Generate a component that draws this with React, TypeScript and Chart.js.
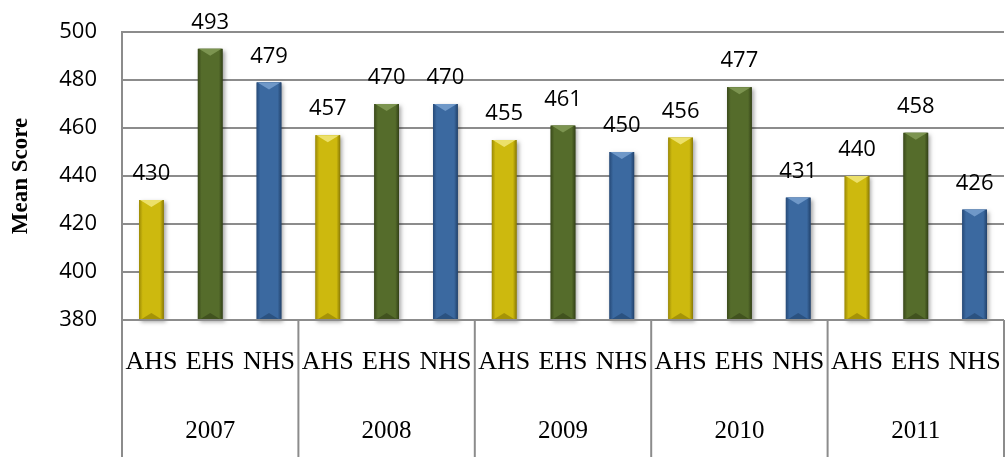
import React, { useEffect, useRef } from "react";
import { Chart, registerables } from "chart.js";

Chart.register(...registerables);

const years = ["2007", "2008", "2009", "2010", "2011"];
const schools = ["AHS", "EHS", "NHS"];
const ahsScores = [430, 457, 455, 456, 440];
const ehsScores = [493, 470, 461, 477, 458];
const nhsScores = [479, 470, 450, 431, 426];
const yTicks = { min: 380, max: 500, step: 20 };
const axisTitle = "Mean Score";

const schoolColors: Record<string, { edge: string; mid: string; light: string; dark: string }> = {
  AHS: { edge: "#9c8a05", mid: "#cdb90e", light: "#ece06a", dark: "#8a7a04" },
  EHS: { edge: "#3a4a1a", mid: "#556c2b", light: "#7c9450", dark: "#334117" },
  NHS: { edge: "#264a78", mid: "#3b69a0", light: "#6f98c8", dark: "#22426b" },
};

const GRID = "#8c8c8c";

export default function App() {
  const ref = useRef<HTMLCanvasElement | null>(null);

  useEffect(() => {
    if (!ref.current) return;
    const labels: string[] = [];
    const values: number[] = [];
    const colorKeys: string[] = [];
    years.forEach((_, i) => {
      const set = [ahsScores[i], ehsScores[i], nhsScores[i]];
      schools.forEach((s, j) => {
        labels.push(s);
        values.push(set[j]);
        colorKeys.push(s);
      });
    });

    const decor = {
      id: "decor",
      afterDatasetsDraw(chart: any) {
        const ctx = chart.ctx as CanvasRenderingContext2D;
        const meta = chart.getDatasetMeta(0);
        const area = chart.chartArea;
        ctx.save();
        meta.data.forEach((bar: any, i: number) => {
          const c = schoolColors[colorKeys[i]];
          const w = bar.width;
          const x0 = bar.x - w / 2;
          const x1 = bar.x + w / 2;
          const top = bar.y;
          const base = Math.min(bar.base, area.bottom);
          ctx.save();
          ctx.shadowColor = "rgba(0,0,0,0.35)";
          ctx.shadowBlur = 4;
          ctx.shadowOffsetX = 2;
          ctx.shadowOffsetY = 2;
          ctx.fillStyle = c.edge;
          ctx.fillRect(x0, top, w, base - top);
          ctx.restore();
          const g = ctx.createLinearGradient(x0, 0, x1, 0);
          g.addColorStop(0, c.edge);
          g.addColorStop(0.15, c.mid);
          g.addColorStop(0.5, c.mid);
          g.addColorStop(0.85, c.mid);
          g.addColorStop(1, c.dark);
          ctx.fillStyle = g;
          ctx.fillRect(x0, top, w, base - top);
          const bv = Math.min(7, (base - top) / 2);
          ctx.fillStyle = c.light;
          ctx.beginPath();
          ctx.moveTo(x0 + 1, top);
          ctx.lineTo(x1 - 1, top);
          ctx.lineTo(bar.x, top + bv);
          ctx.closePath();
          ctx.fill();
          ctx.fillStyle = c.dark;
          ctx.globalAlpha = 0.6;
          ctx.beginPath();
          ctx.moveTo(x0 + 1, base);
          ctx.lineTo(x1 - 1, base);
          ctx.lineTo(bar.x, base - bv);
          ctx.closePath();
          ctx.fill();
          ctx.globalAlpha = 1;
          ctx.fillStyle = "#000";
          ctx.font = '22px "Open Sans"';
          ctx.textAlign = "center";
          ctx.textBaseline = "middle";
          ctx.fillText(String(values[i]), bar.x, top - 26);
        });

        const H = chart.height;
        ctx.strokeStyle = GRID;
        ctx.lineWidth = 2;
        ctx.beginPath();
        ctx.moveTo(area.left, area.top - 1);
        ctx.lineTo(area.left, H);
        ctx.stroke();
        ctx.beginPath();
        ctx.moveTo(area.left, area.bottom);
        ctx.lineTo(area.right, area.bottom);
        ctx.stroke();
        const gw = (area.right - area.left) / years.length;
        for (let k = 1; k <= years.length; k++) {
          const x = area.left + k * gw;
          ctx.beginPath();
          ctx.moveTo(x, area.bottom);
          ctx.lineTo(x, H);
          ctx.stroke();
        }
        ctx.fillStyle = "#000";
        ctx.font = '25px "Liberation Serif"';
        ctx.textAlign = "center";
        ctx.textBaseline = "middle";
        years.forEach((y, k) => {
          ctx.fillText(y, area.left + (k + 0.5) * gw, 431);
        });
        ctx.save();
        ctx.translate(21, 176);
        ctx.rotate(-Math.PI / 2);
        ctx.font = 'bold 23px "Liberation Serif"';
        ctx.fillText(axisTitle, 0, 0);
        ctx.restore();
        ctx.restore();
      },
    };

    const chart = new Chart(ref.current, {
      type: "bar",
      data: {
        labels,
        datasets: [
          {
            data: values,
            backgroundColor: "rgba(0,0,0,0)",
            borderWidth: 0,
            barPercentage: 0.42,
            categoryPercentage: 1,
          },
        ],
      },
      plugins: [decor],
      options: {
        animation: false,
        responsive: false,
        maintainAspectRatio: false,
        layout: { padding: { top: 32, right: 2, left: 0, bottom: 0 } },
        plugins: { legend: { display: false }, tooltip: { enabled: false } },
        scales: {
          x: {
            grid: { display: false },
            border: { display: false },
            ticks: {
              autoSkip: false,
              maxRotation: 0,
              minRotation: 0,
              color: "#000",
              padding: 19,
              font: { family: "Liberation Serif", size: 26 },
            },
            afterFit(scale: any) {
              scale.height = 137;
              scale.paddingLeft = 0;
              scale.paddingRight = 0;
            },
          },
          y: {
            min: yTicks.min,
            max: yTicks.max,
            border: { display: false },
            grid: { color: GRID, lineWidth: 2, drawTicks: false },
            ticks: {
              stepSize: yTicks.step,
              color: "#000",
              padding: 25,
              font: { family: "Open Sans", size: 22 },
            },
            afterFit(scale: any) {
              scale.width = 122;
              scale.paddingTop = 0;
              scale.paddingBottom = 0;
            },
          },
        },
      },
    });
    return () => chart.destroy();
  }, []);

  return (
    <div style={{ position: "fixed", left: 0, top: 0, width: 1006, height: 457, background: "#fff" }}>
      <canvas ref={ref} width={1006} height={457} style={{ width: 1006, height: 457 }} />
    </div>
  );
}
